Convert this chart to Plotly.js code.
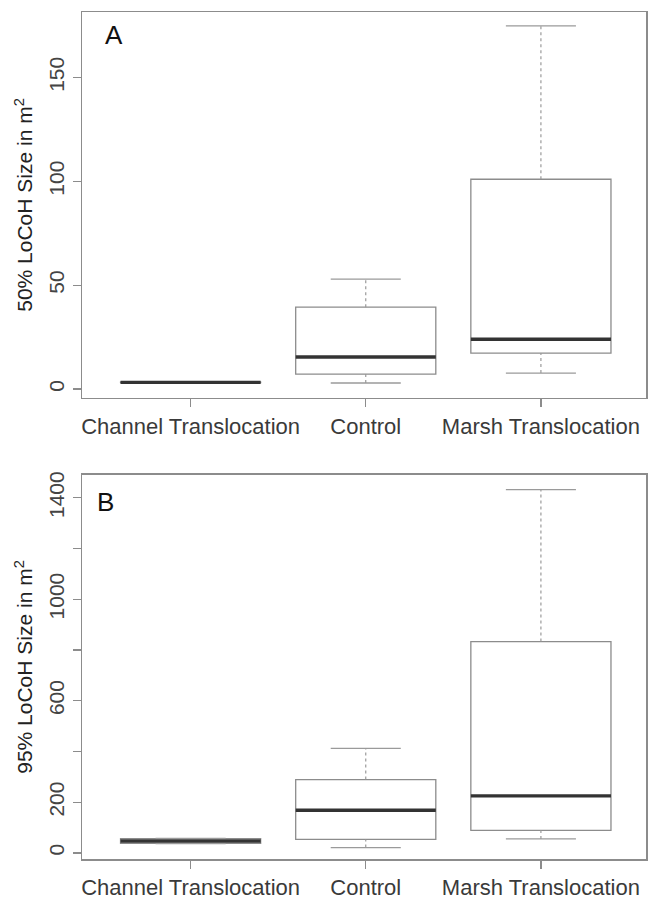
<!DOCTYPE html>
<html>
<head>
<meta charset="utf-8">
<script src="https://cdn.plot.ly/plotly-3.0.1.min.js"></script>
<style>
  html, body { margin: 0; padding: 0; background: #fff; }
  #chart { width: 649px; height: 899px; }
</style>
</head>
<body>
<div id="chart"></div>
<script>
// ---- Data ----
const categories = ["Channel Translocation", "Control", "Marsh Translocation"];
const positions = [1, 2, 3];

// Panel A: 50% LoCoH size (m^2)
const a_min    = [3.0, 2.9, 7.7];
const a_q1     = [3.1, 7.2, 17.3];
const a_median = [3.2, 15.4, 24.0];
const a_q3     = [3.3, 39.4, 101.0];
const a_max    = [3.4, 52.9, 174.8];

// Panel B: 95% LoCoH size (m^2)
const b_min    = [37, 21, 55];
const b_q1     = [38, 53, 89];
const b_median = [47, 168, 225];
const b_q3     = [56, 289, 833];
const b_max    = [57, 412, 1432];

const a_ticks = [0, 50, 100, 150];
const a_tickText = ["0", "50", "100", "150"];
const b_ticks = [0, 200, 600, 1000, 1400];
const b_tickText = ["0", "200", "600", "1000", "1400"];
const b_unlabeledTicks = [400, 800, 1200];

// ---- Styling ----
const boxColor = "#8c8c8c";
const medColor = "#333333";
const whiskColor = "#9a9a9a";
const BOXW = 0.8, CAPW = 0.4;

function panelTraces(mn, q1, med, q3, mx, xa, ya) {
  const traces = [];
  traces.push({
    type: "box", x: positions, q1: q1, median: med, q3: q3,
    lowerfence: q1, upperfence: q3, width: BOXW, whiskerwidth: 0,
    line: { color: boxColor, width: 1.3 }, fillcolor: "rgba(255,255,255,0)",
    boxpoints: false, hoverinfo: "skip", showlegend: false, xaxis: xa, yaxis: ya
  });
  // whiskers (dashed)
  const wx = [], wy = [];
  positions.forEach((p, i) => {
    wx.push(p, p, null, p, p, null);
    wy.push(q3[i], mx[i], null, mn[i], q1[i], null);
  });
  traces.push({ type: "scatter", mode: "lines", x: wx, y: wy,
    line: { color: whiskColor, width: 1.2, dash: "dot" },
    hoverinfo: "skip", showlegend: false, xaxis: xa, yaxis: ya });
  // caps
  const cx = [], cy = [];
  positions.forEach((p, i) => {
    cx.push(p - CAPW / 2, p + CAPW / 2, null, p - CAPW / 2, p + CAPW / 2, null);
    cy.push(mx[i], mx[i], null, mn[i], mn[i], null);
  });
  traces.push({ type: "scatter", mode: "lines", x: cx, y: cy,
    line: { color: whiskColor, width: 1.3 },
    hoverinfo: "skip", showlegend: false, xaxis: xa, yaxis: ya });
  // medians (thick)
  const mxs = [], mys = [];
  positions.forEach((p, i) => {
    mxs.push(p - BOXW / 2, p + BOXW / 2, null);
    mys.push(med[i], med[i], null);
  });
  traces.push({ type: "scatter", mode: "lines", x: mxs, y: mys,
    line: { color: medColor, width: 3.4 },
    hoverinfo: "skip", showlegend: false, xaxis: xa, yaxis: ya });
  return traces;
}

const data = [].concat(
  panelTraces(a_min, a_q1, a_median, a_q3, a_max, "x", "y"),
  panelTraces(b_min, b_q1, b_median, b_q3, b_max, "x2", "y2")
);

const fontFam = "Liberation Sans, Arial, sans-serif";
const xTickFont = { family: fontFam, size: 22, color: "#3a3a3a" };
const yTickFont = { family: fontFam, size: 21, color: "#444" };

function xAxis(anchor) {
  return {
    anchor: anchor, range: [0.38, 3.6], tickmode: "array",
    tickvals: positions, ticktext: categories,
    ticks: "outside", ticklen: 8, tickcolor: boxColor, tickwidth: 1.2,
    showline: true, linecolor: boxColor, linewidth: 1.5, mirror: true,
    showgrid: false, zeroline: false, tickfont: xTickFont, fixedrange: true
  };
}
function yAxis(anchor, domain, range, tv, tt, title) {
  return {
    anchor: anchor, domain: domain, range: range, tickmode: "array",
    tickvals: tv, ticktext: tt, tickangle: -90,
    ticks: "outside", ticklen: 8, tickcolor: boxColor, tickwidth: 1.2,
    showline: true, linecolor: boxColor, linewidth: 1.5, mirror: true,
    showgrid: false, zeroline: false, tickfont: yTickFont,
    title: { text: title, font: { family: fontFam, size: 21, color: "#222" }, standoff: 6 }
  };
}

const yaxis2 = yAxis("x2", [0, 0.4534], [-24, 1490], b_ticks, b_tickText, "95% LoCoH Size in m<sup>2</sup>");
yaxis2.minor = { tickmode: "array", tickvals: b_unlabeledTicks, ticks: "outside",
                 ticklen: 8, tickcolor: boxColor, tickwidth: 1.2, showgrid: false };

const layout = {
  width: 649, height: 899,
  margin: { l: 82, r: 3, t: 12, b: 40 },
  paper_bgcolor: "#fff", plot_bgcolor: "#fff",
  showlegend: false,
  xaxis: xAxis("y"),
  yaxis: yAxis("x", [0.5443, 1], [-4.3, 181.5], a_ticks, a_tickText, "50% LoCoH Size in m<sup>2</sup>"),
  xaxis2: xAxis("y2"),
  yaxis2: yaxis2,
  annotations: [
    { text: "A", xref: "paper", yref: "paper", x: 0.057, y: 0.973, showarrow: false,
      font: { family: fontFam, size: 26, color: "#111" }, xanchor: "center", yanchor: "middle" },
    { text: "B", xref: "paper", yref: "paper", x: 0.041, y: 0.4215, showarrow: false,
      font: { family: fontFam, size: 26, color: "#111" }, xanchor: "center", yanchor: "middle" }
  ]
};

Plotly.newPlot("chart", data, layout, { staticPlot: true, displayModeBar: false });
</script>
</body>
</html>
